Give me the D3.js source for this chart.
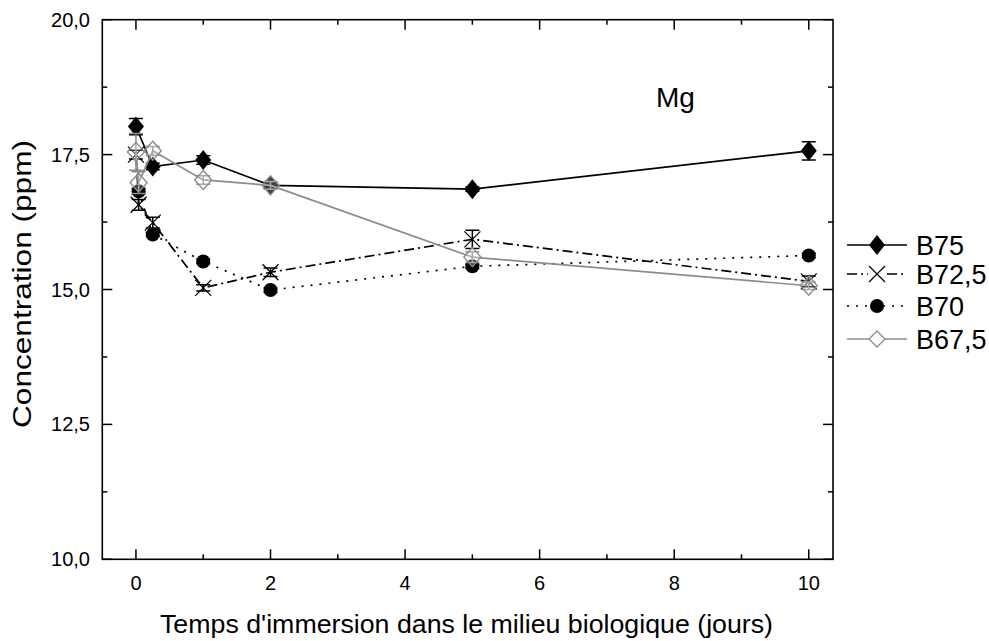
<!DOCTYPE html>
<html><head><meta charset="utf-8">
<script src="https://cdn.jsdelivr.net/npm/d3@7"></script>
<style>body{margin:0;background:#fff}svg{display:block}text{font-family:"Liberation Sans",Arial,sans-serif}</style>
</head><body><svg id="c" width="989" height="641"></svg>
<script>
// Data (time in days, concentration in ppm)
const b75X = [0, 0.25, 1, 2, 5, 10];
const b75Y = [18.02, 17.28, 17.40, 16.93, 16.86, 17.57];
const b75E = [0.15, 0.06, 0.08, 0.05, 0.04, 0.17];

const b725X = [0, 0.04, 0.25, 1, 2, 5, 10];
const b725Y = [17.50, 16.57, 16.24, 15.03, 15.32, 15.93, 15.15];
const b725E = [0.08, 0.10, 0.10, 0.06, 0.08, 0.17, 0.10];

const b70X = [0.04, 0.25, 1, 2, 5, 10];
const b70Y = [16.82, 16.02, 15.52, 14.99, 15.43, 15.63];
const b70E = [0.05, 0.04, 0.04, 0.04, 0.04, 0.04];

const b675X = [0, 0.04, 0.25, 1, 2, 5, 10];
const b675Y = [17.55, 16.98, 17.57, 17.03, 16.93, 15.60, 15.07];
const b675E = [0.34, 0.20, 0.08, 0.08, 0.07, 0.10, 0.07];

const seriesNames = ["B75", "B72,5", "B70", "B67,5"];
const xTicks = [0, 2, 4, 6, 8, 10];
const yTicks = [10, 12.5, 15, 17.5, 20];

const svg = d3.select("#c");
const L = 102.3, R = 833, T = 19.7, B = 559.3;
const x = d3.scaleLinear().domain([-0.5, 10.36]).range([L, R]);
const y = d3.scaleLinear().domain([10, 20]).range([B, T]);
const fmt = v => d3.format(".1f")(v).replace(".", ",");

// frame
svg.append("rect").attr("x", L).attr("y", T).attr("width", R - L).attr("height", B - T)
  .attr("fill", "none").attr("stroke", "#000").attr("stroke-width", 1.6);

const xMinor = d3.range(1, 11, 2);
const yMinor = [11.25, 13.75, 16.25, 18.75];
const tk = svg.append("g").attr("stroke", "#000").attr("stroke-width", 1.5);
xTicks.forEach(v => {
  tk.append("line").attr("x1", x(v)).attr("x2", x(v)).attr("y1", B).attr("y2", B - 10);
  tk.append("line").attr("x1", x(v)).attr("x2", x(v)).attr("y1", T).attr("y2", T + 10);
});
xMinor.forEach(v => {
  tk.append("line").attr("x1", x(v)).attr("x2", x(v)).attr("y1", B).attr("y2", B - 5);
  tk.append("line").attr("x1", x(v)).attr("x2", x(v)).attr("y1", T).attr("y2", T + 5);
});
yTicks.forEach(v => {
  tk.append("line").attr("x1", L).attr("x2", L + 10).attr("y1", y(v)).attr("y2", y(v));
  tk.append("line").attr("x1", R).attr("x2", R - 10).attr("y1", y(v)).attr("y2", y(v));
});
yMinor.forEach(v => {
  tk.append("line").attr("x1", L).attr("x2", L + 5).attr("y1", y(v)).attr("y2", y(v));
  tk.append("line").attr("x1", R).attr("x2", R - 5).attr("y1", y(v)).attr("y2", y(v));
});

// tick labels
xTicks.forEach(v => svg.append("text").attr("x", x(v)).attr("y", 590).attr("text-anchor", "middle")
  .attr("font-size", 20).text(v));
yTicks.forEach(v => svg.append("text").attr("x", 51).attr("y", y(v) + 7)
  .attr("font-size", 20).attr("textLength", 39).attr("lengthAdjust", "spacingAndGlyphs").text(fmt(v)));

// axis titles
svg.append("text").attr("x", 160).attr("y", 633).attr("font-size", 26)
  .attr("textLength", 613).attr("lengthAdjust", "spacingAndGlyphs")
  .text("Temps d'immersion dans le milieu biologique (jours)");
svg.append("text").attr("transform", "translate(31,428) rotate(-90)")
  .attr("font-size", 26).attr("textLength", 288).attr("lengthAdjust", "spacingAndGlyphs")
  .text("Concentration (ppm)");
svg.append("text").attr("x", 656).attr("y", 107).attr("font-size", 28).text("Mg");

// markers
function marker(g, type, cx, cy) {
  if (type === "fdiam") {
    g.append("path").attr("d", `M${cx},${cy-10}L${cx+8},${cy}L${cx},${cy+10}L${cx-8},${cy}Z`).attr("fill", "#000");
  } else if (type === "odiam") {
    g.append("path").attr("d", `M${cx},${cy-9.5}L${cx+8.5},${cy}L${cx},${cy+9.5}L${cx-8.5},${cy}Z`)
      .attr("fill", "#fff").attr("fill-opacity", 0.25).attr("stroke", "#8c8c8c").attr("stroke-width", 1.4);
  } else if (type === "x") {
    g.append("path").attr("d", `M${cx-8},${cy-8}L${cx+8},${cy+8}M${cx-8},${cy+8}L${cx+8},${cy-8}`)
      .attr("stroke", "#000").attr("stroke-width", 1.2);
  } else if (type === "circ") {
    g.append("circle").attr("cx", cx).attr("cy", cy).attr("r", 7).attr("fill", "#000");
  }
}

const series = [
  {xs: b75X, ys: b75Y, es: b75E, color: "#000", dash: null, m: "fdiam"},
  {xs: b725X, ys: b725Y, es: b725E, color: "#000", dash: "10,4,2,4", m: "x"},
  {xs: b70X, ys: b70Y, es: b70E, color: "#000", dash: "2,7", m: "circ"},
  {xs: b675X, ys: b675Y, es: b675E, color: "#8c8c8c", dash: null, m: "odiam"}
];
const line = d3.line().x(d => x(d[0])).y(d => y(d[1]));
series.forEach(s => {
  const g = svg.append("g");
  const pts = s.xs.map((v, i) => [v, s.ys[i]]);
  g.append("path").attr("d", line(pts)).attr("fill", "none").attr("stroke", s.color)
    .attr("stroke-width", 1.7).attr("stroke-dasharray", s.dash);
  pts.forEach((p, i) => {
    const cx = x(p[0]), y1 = y(p[1] + s.es[i]), y2 = y(p[1] - s.es[i]);
    g.append("path").attr("d", `M${cx},${y1}V${y2}M${cx-7},${y1}H${cx+7}M${cx-7},${y2}H${cx+7}`)
      .attr("stroke", s.color).attr("stroke-width", 1.5).attr("fill", "none");
    marker(g, s.m, cx, y(p[1]));
  });
});

// legend
const lys = [245, 274, 306, 339];
series.forEach((s, i) => {
  const g = svg.append("g");
  const yy = lys[i];
  g.append("line").attr("x1", 847).attr("x2", 907).attr("y1", yy).attr("y2", yy)
    .attr("stroke", s.color).attr("stroke-width", 1.7).attr("stroke-dasharray", s.dash);
  if (s.m === "odiam") {
    g.append("path").attr("d", `M877,${yy-8}L885,${yy}L877,${yy+8}L869,${yy}Z`).attr("fill", "#fff").attr("stroke", "#8c8c8c").attr("stroke-width", 1.3);
  } else if (s.m === "x") {
    g.append("rect").attr("x", 868).attr("y", yy - 9).attr("width", 18).attr("height", 18).attr("fill", "#fff");
    marker(g, "x", 877, yy);
  } else marker(g, s.m, 877, yy);
  g.append("text").attr("x", 916).attr("y", yy + 9.5).attr("font-size", 27).text(seriesNames[i]);
});
</script></body></html>
